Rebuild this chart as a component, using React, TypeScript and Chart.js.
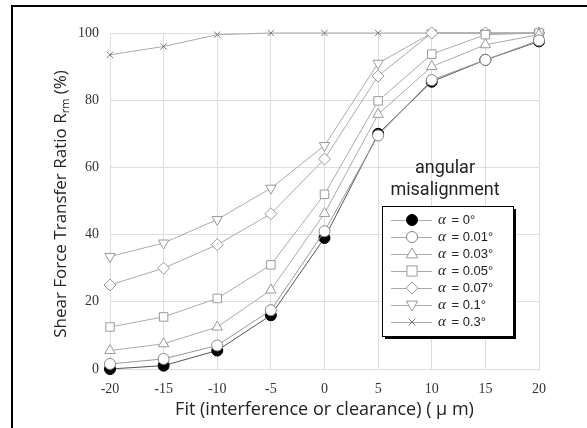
import React, { useEffect, useRef } from "react";
import { Chart, registerables } from "chart.js";

Chart.register(...registerables);

const fitValues = [-20, -15, -10, -5, 0, 5, 10, 15, 20];
const yTicks = [0, 20, 40, 60, 80, 100];

const alpha000 = [0, 1, 5.5, 16, 39, 70, 85.5, 92, 97.5];
const alpha001 = [1.5, 3, 7, 17.5, 41, 69.5, 86, 92, 97.8];
const alpha003 = [5.5, 7.5, 12.5, 23.5, 46.3, 75.8, 90, 96.5, 99.5];
const alpha005 = [12.5, 15.5, 21, 31, 52, 79.8, 93.7, 99.5, 100];
const alpha007 = [25, 30, 37, 46.2, 62.5, 87.2, 100, 100, 100];
const alpha010 = [33.5, 37.5, 44.5, 53.8, 66.5, 91, 100, 100, 100];
const alpha030 = [93.5, 96, 99.5, 100, 100, 100, 100, 100, 100];

const seriesLabels = ["0°", "0.01°", "0.03°", "0.05°", "0.07°", "0.1°", "0.3°"];
const xTitle = "Fit (interference or clearance) ( μ m)";
const yTitleMain = "Shear Force Transfer Ratio R";
const yTitleSub = "rm";
const yTitleEnd = " (%)";
const legendTitle = ["angular", "misalignment"];

const SANS = "'Open Sans', Roboto, 'Liberation Sans', sans-serif";
const SERIF = "'Liberation Serif', 'DejaVu Serif', serif";

export default function App() {
  const ref = useRef<HTMLCanvasElement | null>(null);

  useEffect(() => {
    document.body.style.margin = "0";
    const canvas = ref.current!;
    const styles = [
      { ps: "circle", rot: 0, bg: "#000", bc: "#000", lc: "#555", r: 5.5 },
      { ps: "circle", rot: 0, bg: "#fff", bc: "#888", lc: "#999", r: 5.5 },
      { ps: "triangle", rot: 0, bg: "#fff", bc: "#999", lc: "#aaa", r: 6 },
      { ps: "rect", rot: 0, bg: "#fff", bc: "#999", lc: "#aaa", r: 6 },
      { ps: "rectRot", rot: 0, bg: "#fff", bc: "#999", lc: "#aaa", r: 6 },
      { ps: "triangle", rot: 180, bg: "#fff", bc: "#999", lc: "#aaa", r: 6 },
      { ps: "crossRot", rot: 0, bg: "#fff", bc: "#777", lc: "#aaa", r: 4.5 },
    ];
    const seriesData = [alpha000, alpha001, alpha003, alpha005, alpha007, alpha010, alpha030];

    const datasets = seriesData.map((vals, i) => ({
      label: "α = " + seriesLabels[i],
      data: vals.map((v, j) => ({ x: fitValues[j], y: v })),
      borderColor: styles[i].lc,
      borderWidth: 1,
      pointStyle: styles[i].ps as any,
      pointRotation: styles[i].rot,
      pointRadius: styles[i].r,
      pointBackgroundColor: styles[i].bg,
      pointBorderColor: styles[i].bc,
      pointBorderWidth: 1,
      order: i === 0 ? 1 : 0,
      clip: false as any,
    }));

    function drawPoint(c: CanvasRenderingContext2D, style: string, rot: number, r: number, x: number, y: number) {
      c.save();
      c.translate(x, y);
      c.rotate((rot * Math.PI) / 180);
      c.beginPath();
      if (style === "circle") {
        c.arc(0, 0, r, 0, Math.PI * 2);
        c.fill();
        c.stroke();
      } else if (style === "triangle") {
        c.moveTo(0, -r);
        c.lineTo(r * 0.95, r * 0.65);
        c.lineTo(-r * 0.95, r * 0.65);
        c.closePath();
        c.fill();
        c.stroke();
      } else if (style === "rect") {
        const s = r * 0.85;
        c.rect(-s, -s, 2 * s, 2 * s);
        c.fill();
        c.stroke();
      } else if (style === "rectRot") {
        c.moveTo(0, -r);
        c.lineTo(r, 0);
        c.lineTo(0, r);
        c.lineTo(-r, 0);
        c.closePath();
        c.fill();
        c.stroke();
      } else if (style === "crossRot") {
        const s = r * 0.75;
        c.moveTo(-s, -s);
        c.lineTo(s, s);
        c.moveTo(s, -s);
        c.lineTo(-s, s);
        c.stroke();
      }
      c.restore();
    }

    const decor = {
      id: "decor",
      beforeDraw(chart: any) {
        const c = chart.ctx;
        c.save();
        c.fillStyle = "#fff";
        c.fillRect(0, 0, chart.width, chart.height);
        c.restore();
      },
      afterDraw(chart: any) {
        const c = chart.ctx as CanvasRenderingContext2D;
        const area = chart.chartArea;
        c.save();
        // frame
        c.strokeStyle = "#000";
        c.lineWidth = 2;
        c.beginPath();
        c.moveTo(12, chart.height + 2);
        c.lineTo(12, 6);
        c.lineTo(chart.width + 2, 6);
        c.stroke();

        // x title
        c.fillStyle = "#222";
        c.font = "18px " + SANS;
        c.textAlign = "center";
        c.textBaseline = "middle";
        c.fillText(xTitle, (area.left + area.right) / 2, 410);

        // y title with subscript
        c.save();
        c.translate(60, 204);
        c.rotate(-Math.PI / 2);
        c.font = "17px " + SANS;
        const w1 = c.measureText(yTitleMain).width;
        c.font = "11px " + SANS;
        const w2 = c.measureText(yTitleSub).width;
        c.font = "17px " + SANS;
        const w3 = c.measureText(yTitleEnd).width;
        const tot = w1 + w2 + w3;
        const x0 = -tot / 2;
        c.textAlign = "left";
        c.textBaseline = "alphabetic";
        c.fillText(yTitleMain, x0, 6);
        c.font = "11px " + SANS;
        c.fillText(yTitleSub, x0 + w1, 9);
        c.font = "17px " + SANS;
        c.fillText(yTitleEnd, x0 + w1 + w2, 6);
        c.restore();

        // legend title
        c.font = "18px Roboto, sans-serif";
        c.textAlign = "center";
        c.textBaseline = "middle";
        c.fillStyle = "#222";
        c.fillText(legendTitle[0], 445, 168);
        c.fillText(legendTitle[1], 445, 190);

        // legend box
        const bx = 382, by = 206, bw = 131, bh = 130;
        c.fillStyle = "#000";
        c.fillRect(bx + 3, by + 3, bw, bh);
        c.fillStyle = "#fff";
        c.fillRect(bx, by, bw, bh);
        c.strokeStyle = "#000";
        c.lineWidth = 1;
        c.strokeRect(bx + 0.5, by + 0.5, bw, bh);

        chart.data.datasets.forEach((ds: any, i: number) => {
          const y = 220 + i * 17;
          c.strokeStyle = "#aaa";
          c.lineWidth = 1;
          c.beginPath();
          c.moveTo(391, y + 0.5);
          c.lineTo(432, y + 0.5);
          c.stroke();
          c.fillStyle = ds.pointBackgroundColor;
          c.strokeStyle = ds.pointBorderColor;
          c.lineWidth = 1;
          drawPoint(c, ds.pointStyle, ds.pointRotation, ds.pointRadius, 412, y);
          c.fillStyle = "#222";
          c.textAlign = "left";
          c.textBaseline = "middle";
          c.font = "italic 15px " + SERIF;
          c.fillText("α", 438, y);
          const aw = c.measureText("α").width;
          c.font = "13px 'Liberation Sans', Arial, sans-serif";
          c.fillText(" = " + seriesLabels[i], 438 + aw + 2, y);
        });
        c.restore();
      },
    };

    const chart = new Chart(canvas, {
      type: "line",
      data: { datasets: datasets as any },
      options: {
        animation: false,
        responsive: false,
        maintainAspectRatio: false,
        layout: { padding: { left: 0, right: 48, top: 33, bottom: 0 } },
        plugins: { legend: { display: false }, tooltip: { enabled: false } },
        scales: {
          x: {
            type: "linear",
            min: -20,
            max: 20,
            afterFit: (s: any) => {
              s.height = 59;
            },
            afterBuildTicks: (s: any) => {
              s.ticks = fitValues.map((v) => ({ value: v }));
            },
            grid: { color: "#ddd", lineWidth: 1, drawTicks: false },
            border: { color: "#ddd" },
            ticks: {
              padding: 12,
              color: "#333",
              font: { family: SERIF, size: 14 },
              maxRotation: 0,
            },
          },
          y: {
            type: "linear",
            min: 0,
            max: 100,
            afterFit: (s: any) => {
              s.width = 110;
            },
            afterBuildTicks: (s: any) => {
              s.ticks = yTicks.map((v) => ({ value: v }));
            },
            grid: { color: "#ddd", lineWidth: 1, drawTicks: false },
            border: { color: "#ddd" },
            ticks: {
              padding: 11,
              color: "#333",
              font: { family: SERIF, size: 14 },
            },
          },
        },
      },
      plugins: [decor],
    });
    return () => chart.destroy();
  }, []);

  return (
    <div style={{ width: 587, height: 428, position: "relative" }}>
      <canvas ref={ref} width={587} height={428} style={{ display: "block", width: 587, height: 428 }} />
    </div>
  );
}
